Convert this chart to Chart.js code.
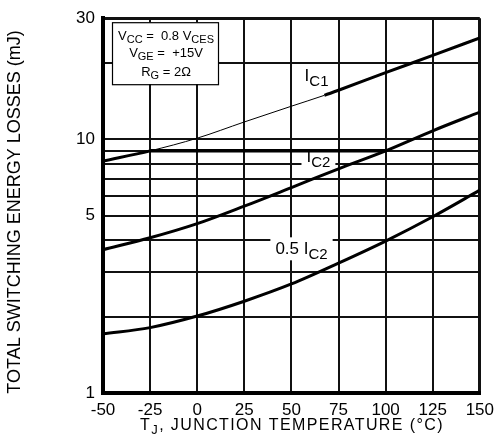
<!DOCTYPE html>
<html>
<head>
<meta charset="utf-8">
<script src="https://cdn.jsdelivr.net/npm/chart.js@4"></script>
<style>
  html, body { margin: 0; padding: 0; background: #fff; }
  #wrap { width: 501px; height: 440px; }
</style>
</head>
<body>
<div id="wrap"><canvas id="chart" width="501" height="440"></canvas></div>
<script>
// values (mJ vs Tj in degC)
const temps = [-50, -25, 0, 25, 50, 75, 100, 125, 150];
const ic1Temps = [-50, -25, 0, 25, 50, 67.5, 75, 100, 125, 150];
const ic1Loss = [8.2, 9.0, 10.1, 11.7, 13.5, 14.9, 15.6, 18.3, 21.4, 25.1];
const ic2Loss = [3.67, 4.09, 4.65, 5.45, 6.45, 7.65, 9.0, 10.8, 12.8];
const halfIc2Loss = [1.71, 1.81, 2.01, 2.30, 2.69, 3.25, 3.97, 4.95, 6.3];
const leaderTemps = [-25, 100];
const leaderLoss = [9.0, 9.0];
const thinFrom = -25, thinTo = 67.5; // faint stretch of the I_C1 curve

const xTicks = [-50, -25, 0, 25, 50, 75, 100, 125, 150];
const yGrid = [1, 2, 3, 4, 5, 6, 7, 8, 9, 10, 20, 30];
const yLabels = [1, 5, 10, 30];

const curveLabels = [
    { parts: [['I'], ['C1', 1]], x: 57, y: 16.9, clear: false },
    { parts: [['I'], ['C2', 1]], x: 58, y: 8.15, clear: true },
    { parts: [['0.5 I'], ['C2', 1]], x: 41.5, y: 3.52, clear: true }
];
const conditions = [
    [['V'], ['CC', 1], [' =  0.8 V'], ['CES', 1]],
    [['V'], ['GE', 1], [' =  +15V']],
    [['R'], ['G', 1], [' = 2\u03A9']]
];

const FONT = '"Liberation Sans", Arial, sans-serif';

function pts(xs, ys) {
    return xs.map((x, i) => ({ x: x, y: ys[i] }));
}

// text with subscripts, parts = [[text, isSub], ...]
function richWidth(ctx, parts, size, subSize) {
    let w = 0;
    parts.forEach(p => {
        ctx.font = (p[1] ? subSize : size) + 'px ' + FONT;
        w += ctx.measureText(p[0]).width;
    });
    return w;
}

function drawRich(ctx, parts, x, y, size, subSize, subDrop) {
    let cx = x;
    ctx.textAlign = 'left';
    ctx.textBaseline = 'alphabetic';
    parts.forEach(p => {
        ctx.font = (p[1] ? subSize : size) + 'px ' + FONT;
        ctx.fillText(p[0], cx, p[1] ? y + subDrop : y);
        cx += ctx.measureText(p[0]).width;
    });
}

const annotations = {
    id: 'annotations',
    beforeDatasetsDraw(chart) {
        const ctx = chart.ctx;
        const xs = chart.scales.x, ys = chart.scales.y;
        ctx.save();
        ctx.fillStyle = '#fff';
        curveLabels.filter(l => l.clear).forEach(l => {
            const px = xs.getPixelForValue(l.x);
            const py = ys.getPixelForValue(l.y);
            const w = richWidth(ctx, l.parts, 17, 15);
            ctx.fillRect(px - 5, py - 17, w + 10, 23);
        });
        ctx.restore();
    },
    afterDatasetsDraw(chart) {
        const ctx = chart.ctx;
        const area = chart.chartArea;
        const xs = chart.scales.x, ys = chart.scales.y;
        ctx.save();
        ctx.fillStyle = '#000';

        curveLabels.forEach(l => {
            drawRich(ctx, l.parts, xs.getPixelForValue(l.x), ys.getPixelForValue(l.y), 17, 15, 5);
        });

        // conditions box
        const bx = area.left + 9, by = area.top + 4, bw = 106, bh = 62;
        ctx.fillStyle = '#fff';
        ctx.fillRect(bx, by, bw, bh);
        ctx.strokeStyle = '#000';
        ctx.lineWidth = 1.2;
        ctx.strokeRect(bx + 0.5, by + 0.5, bw, bh);
        ctx.fillStyle = '#000';
        const baselines = [by + 18, by + 35, by + 54];
        conditions.forEach((line, i) => {
            const w = richWidth(ctx, line, 13, 11);
            drawRich(ctx, line, bx + bw / 2 - w / 2 + 1, baselines[i], 13, 11, 3);
        });

        // x axis title, scan lettering is wide so spread it a bit
        ctx.letterSpacing = '1.4px';
        const xt = [['T'], ['J', 1], [', JUNCTION TEMPERATURE (\u00B0C)']];
        const xw = richWidth(ctx, xt, 16, 13);
        drawRich(ctx, xt, 292 - xw / 2, 430, 16, 13, 4);
        ctx.letterSpacing = '0px';

        // y axis title
        ctx.translate(15, 212);
        ctx.rotate(-Math.PI / 2);
        ctx.font = '18px ' + FONT;
        ctx.textAlign = 'center';
        ctx.textBaseline = 'middle';
        ctx.fillText('TOTAL SWITCHING ENERGY LOSSES (mJ)', 0, 0);
        ctx.restore();
    }
};

const curve = {
    borderColor: '#000',
    borderWidth: 3,
    pointRadius: 0,
    fill: false,
    cubicInterpolationMode: 'monotone'
};

new Chart(document.getElementById('chart'), {
    type: 'line',
    data: {
        datasets: [
            Object.assign({}, curve, {
                label: 'IC1',
                data: pts(ic1Temps, ic1Loss),
                segment: {
                    borderWidth: c => (c.p0.parsed.x >= thinFrom && c.p1.parsed.x <= thinTo) ? 1 : 3
                }
            }),
            Object.assign({}, curve, { label: 'IC2', data: pts(temps, ic2Loss) }),
            Object.assign({}, curve, { label: '0.5 IC2', data: pts(temps, halfIc2Loss) }),
            Object.assign({}, curve, { label: 'IC2 leader', data: pts(leaderTemps, leaderLoss), borderWidth: 3.5 })
        ]
    },
    options: {
        responsive: false,
        animation: false,
        layout: { padding: { top: 14, right: 17, bottom: 0, left: 0 } },
        plugins: {
            legend: { display: false },
            tooltip: { enabled: false }
        },
        scales: {
            x: {
                type: 'linear',
                min: -50,
                max: 150,
                afterBuildTicks: s => { s.ticks = xTicks.map(v => ({ value: v })); },
                afterFit: s => { s.height = 47; },
                grid: {
                    color: '#111',
                    lineWidth: c => c.tick && c.tick.value === 150 ? 3 : 2,
                    drawTicks: false
                },
                border: { color: '#000', width: 4 },
                ticks: {
                    color: '#000',
                    padding: 7,
                    maxRotation: 0,
                    font: { size: 17, family: FONT }
                }
            },
            y: {
                type: 'logarithmic',
                min: 1,
                max: 30,
                afterBuildTicks: s => { s.ticks = yGrid.map(v => ({ value: v })); },
                afterFit: s => { s.width = 103; },
                grid: {
                    color: '#111',
                    lineWidth: c => c.tick && c.tick.value === 30 ? 3 : 2,
                    drawTicks: false
                },
                border: { color: '#000', width: 4 },
                ticks: {
                    color: '#000',
                    padding: 8,
                    font: { size: 17, family: FONT },
                    callback: v => yLabels.includes(v) ? String(v) : ''
                }
            }
        }
    },
    plugins: [annotations]
});
</script>
</body>
</html>
